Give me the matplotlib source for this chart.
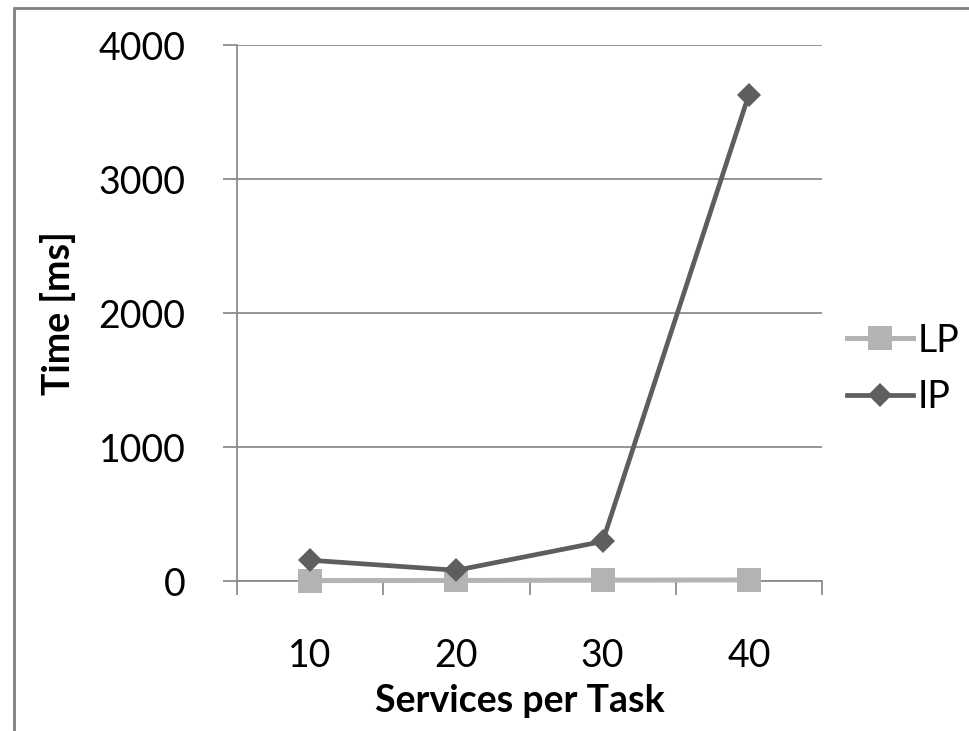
import matplotlib
matplotlib.use("Agg")
import matplotlib.pyplot as plt
from matplotlib.patches import Rectangle
from matplotlib.ticker import FixedLocator, NullFormatter

# ── Data ───────────────────────────────────────────────────────────────────
categories = ["10", "20", "30", "40"]
lp_ms = [3, 4, 6, 8]
ip_ms = [155, 80, 295, 3630]
y_ticks = [0, 1000, 2000, 3000, 4000]

plt.rcParams["font.family"] = ["Lato", "DejaVu Sans"]
FS = 27
GRID = "#8c8c8c"

fig = plt.figure(figsize=(9.69, 7.31), dpi=100)
ax = fig.add_axes([237 / 969, 1 - 581 / 731, 585 / 969, 536 / 731])

x = list(range(1, len(categories) + 1))
ax.plot(x, lp_ms, color="#b3b3b3", linewidth=3.6, marker="s",
        markersize=17, markeredgewidth=0, label="LP", zorder=3, clip_on=False)
ax.plot(x, ip_ms, color="#5e5e5e", linewidth=3.4, marker="D",
        markersize=12, markeredgewidth=0, label="IP", zorder=4, clip_on=False)

# axes: Excel-style category axis with boundary ticks
ax.set_xlim(0.5, len(categories) + 0.5)
ax.set_ylim(0, 4000)
ax.set_xticks(x)
ax.set_xticklabels(categories)
ax.xaxis.set_minor_locator(FixedLocator([i + 0.5 for i in range(len(categories) + 1)]))
ax.xaxis.set_minor_formatter(NullFormatter())
ax.tick_params(axis="x", which="major", length=0, pad=41, labelsize=FS)
ax.tick_params(axis="x", which="minor", length=10, width=1.3, color=GRID,
               direction="out")
ax.set_yticks(y_ticks)
ax.tick_params(axis="y", length=10, width=1.3, color=GRID, direction="out",
               pad=27, labelsize=FS)

ax.grid(axis="y", color=GRID, linewidth=1.3)
ax.set_axisbelow(True)
for side in ("top", "right"):
    ax.spines[side].set_visible(False)
for side in ("left", "bottom"):
    ax.spines[side].set_color(GRID)
    ax.spines[side].set_linewidth(1.3)

ax.set_xlabel("Services per Task", fontsize=FS, fontweight="bold", labelpad=8)
ax.xaxis.set_label_coords(520 / 969, -0, transform=fig.transFigure)
ax.xaxis.label.set_verticalalignment("top")
ax.xaxis.label.set_y(1 - 684 / 731)
ax.set_ylabel("Time [ms]", fontsize=FS, fontweight="bold", labelpad=16)

ax.legend(loc="center left", bbox_to_anchor=(847 / 969, 1 - 369 / 731),
          bbox_transform=fig.transFigure, frameon=False, fontsize=FS,
          borderpad=0, borderaxespad=0, handlelength=1.76,
          handletextpad=0.12, labelspacing=0.56)

# outer frame of the chart area
fig.patches.append(Rectangle((14 / 969, -0.1), 2, 1.1 - 8 / 731,
                             transform=fig.transFigure, fill=False,
                             edgecolor="#808080", linewidth=2))

fig.savefig("out.png", dpi=100)
